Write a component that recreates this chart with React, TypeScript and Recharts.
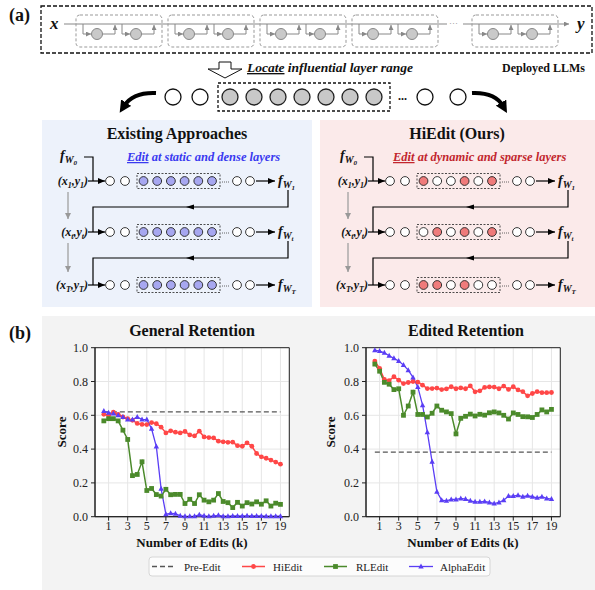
import React from "react";
import {
  LineChart,
  Line,
  XAxis,
  YAxis,
  CartesianGrid,
  ReferenceLine,
  ReferenceArea,
} from "recharts";

// number of edits (k)
const edits = [
  0.5, 1, 1.5, 2, 2.5, 3, 3.5, 4, 4.5, 5, 5.5, 6, 6.5, 7, 7.5, 8, 8.5, 9, 9.5, 10,
  10.5, 11, 11.5, 12, 12.5, 13, 13.5, 14, 14.5, 15, 15.5, 16, 16.5, 17, 17.5, 18, 18.5, 19,
];

// General Retention
const hiGeneral = [
  0.606, 0.6, 0.618, 0.606, 0.59, 0.58, 0.57, 0.552, 0.546, 0.545, 0.557, 0.55, 0.53, 0.496,
  0.508, 0.5, 0.496, 0.504, 0.484, 0.478, 0.506, 0.472, 0.468, 0.466, 0.447, 0.443, 0.44,
  0.441, 0.42, 0.417, 0.437, 0.417, 0.374, 0.354, 0.346, 0.335, 0.323, 0.311,
];
const rlGeneral = [
  0.567, 0.58, 0.58, 0.567, 0.512, 0.457, 0.243, 0.25, 0.325, 0.155, 0.167, 0.131, 0.122,
  0.162, 0.13, 0.132, 0.132, 0.078, 0.103, 0.078, 0.13, 0.098, 0.088, 0.098, 0.137, 0.09,
  0.083, 0.054, 0.085, 0.063, 0.083, 0.075, 0.088, 0.074, 0.094, 0.063, 0.08, 0.073,
];
const alphaGeneral = [
  0.625, 0.615, 0.61, 0.6, 0.59, 0.575, 0.575, 0.59, 0.575, 0.575, 0.52, 0.415, 0.165, 0.015,
  0.02, 0.018, 0.005, 0.002, 0.002, 0.002, 0.012, 0.005, 0.002, 0.005, 0.008, 0.003, 0.003,
  0.004, 0.004, 0.004, 0.005, 0.004, 0.004, 0.004, 0.003, 0.003, 0.003, 0.003,
];
const preGeneral = 0.62;

// Edited Retention
const hiEdited = [
  0.921, 0.878, 0.812, 0.805, 0.828, 0.808, 0.788, 0.794, 0.8, 0.796, 0.778, 0.758, 0.758,
  0.761, 0.752, 0.756, 0.769, 0.757, 0.762, 0.757, 0.774, 0.739, 0.745, 0.765, 0.768, 0.767,
  0.757, 0.773, 0.753, 0.769, 0.75, 0.74, 0.715, 0.729, 0.74, 0.734, 0.734, 0.735,
];
const rlEdited = [
  0.903, 0.861, 0.795, 0.784, 0.752, 0.757, 0.6, 0.655, 0.737, 0.605, 0.605, 0.59, 0.612,
  0.655, 0.63, 0.62, 0.61, 0.49, 0.582, 0.594, 0.607, 0.596, 0.606, 0.601, 0.615, 0.62,
  0.614, 0.6, 0.578, 0.614, 0.605, 0.592, 0.591, 0.587, 0.605, 0.632, 0.62, 0.635,
];
const alphaEdited = [
  0.985, 0.98, 0.97, 0.952, 0.937, 0.921, 0.897, 0.867, 0.824, 0.768, 0.66, 0.5, 0.325,
  0.147, 0.098, 0.094, 0.102, 0.102, 0.108, 0.104, 0.094, 0.088, 0.088, 0.09, 0.084, 0.078,
  0.084, 0.098, 0.122, 0.122, 0.127, 0.118, 0.124, 0.118, 0.112, 0.118, 0.108, 0.104,
];
const preEdited = 0.382;

const xTicks = [1, 3, 5, 7, 9, 11, 13, 15, 17, 19];
const yTicks = [0, 0.2, 0.4, 0.6, 0.8, 1.0];
const seriesNames = ["Pre-Edit", "HiEdit", "RLEdit", "AlphaEdit"];
const chartTitles = ["General Retention", "Edited Retention"];
const xLabel = "Number of Edits (k)";
const yLabel = "Score";

// which layers HiEdit touches in each row of the sketch
const hiEditPattern = [
  [1, 0, 0, 1, 0, 1],
  [0, 1, 0, 1, 0, 1],
  [1, 1, 0, 1, 0, 0],
];

const SERIF = "'Liberation Serif', 'Times New Roman', 'DejaVu Serif', serif";
const RED = "#ff4747";
const GREEN = "#4b8a2b";
const BLUE = "#5a3ef5";
const DASH = "#555";
const X_DOMAIN = [-0.425, 19.925];

const generalRows = edits.map((k, i) => ({
  k,
  hi: hiGeneral[i],
  rl: rlGeneral[i],
  alpha: alphaGeneral[i],
}));
const editedRows = edits.map((k, i) => ({
  k,
  hi: hiEdited[i],
  rl: rlEdited[i],
  alpha: alphaEdited[i],
}));

const circleDot = (color: string) => (p: any) =>
  <circle key={`c${p.index}`} cx={p.cx} cy={p.cy} r={2.4} fill={color} />;
const squareDot = (color: string) => (p: any) =>
  <rect key={`s${p.index}`} x={p.cx - 2.4} y={p.cy - 2.4} width={4.8} height={4.8} fill={color} />;
const triDot = (color: string) => (p: any) => (
  <polygon
    key={`t${p.index}`}
    points={`${p.cx},${p.cy - 3} ${p.cx - 2.7},${p.cy + 2} ${p.cx + 2.7},${p.cy + 2}`}
    fill={color}
  />
);

function RetentionChart({ data, pre, left }: { data: any[]; pre: number; left: number }) {
  const tick = { fill: "#222", fontSize: 12, fontFamily: SERIF };
  return (
    <div style={{ position: "absolute", left, top: 320 }}>
      <LineChart width={255} height={240} data={data} margin={{ top: 27.7, right: 5.7, left: 0, bottom: 13.3 }}>
        <CartesianGrid stroke="#e6e6e6" fill="#fff" />
        <XAxis
          dataKey="k"
          type="number"
          domain={X_DOMAIN}
          ticks={xTicks}
          interval={0}
          allowDataOverflow
          tick={tick}
          tickSize={4}
          tickMargin={1}
          axisLine={{ stroke: "#222" }}
          tickLine={{ stroke: "#222" }}
          height={30}
        />
        <YAxis
          type="number"
          domain={[0, 1]}
          ticks={yTicks}
          interval={0}
          tickFormatter={(v: number) => v.toFixed(1)}
          tick={tick}
          tickSize={4}
          tickMargin={3}
          axisLine={{ stroke: "#222" }}
          tickLine={{ stroke: "#222" }}
          width={55}
        />
        <ReferenceArea x1={X_DOMAIN[0]} x2={X_DOMAIN[1]} y1={0} y2={1} fill="none" stroke="#222" strokeWidth={1} />
        <ReferenceLine
          segment={[{ x: edits[0], y: pre }, { x: edits[edits.length - 1], y: pre }]}
          stroke={DASH}
          strokeWidth={1.4}
          strokeDasharray="5 3"
        />
        <Line type="linear" dataKey="hi" stroke={RED} strokeWidth={1.5} dot={circleDot(RED)} isAnimationActive={false} />
        <Line type="linear" dataKey="rl" stroke={GREEN} strokeWidth={1.5} dot={squareDot(GREEN)} isAnimationActive={false} />
        <Line type="linear" dataKey="alpha" stroke={BLUE} strokeWidth={1.3} dot={triDot(BLUE)} isAnimationActive={false} />
      </LineChart>
    </div>
  );
}

function FW({ x, y, sub }: { x: number; y: number; sub: string }) {
  return (
    <text x={x} y={y} fontFamily={SERIF} fontStyle="italic" fontWeight="bold" fontSize={14} fill="#111">
      f
      <tspan fontSize={10} dy={3}>W</tspan>
      <tspan fontSize={7} dy={2}>{sub}</tspan>
    </text>
  );
}

function XY({ x, y, sub }: { x: number; y: number; sub: string }) {
  return (
    <text x={x} y={y} textAnchor="end" fontFamily={SERIF} fontStyle="italic" fontWeight="bold" fontSize={12} fill="#111">
      (x<tspan fontSize={8} dy={3}>{sub}</tspan>
      <tspan dy={-3}>,y</tspan>
      <tspan fontSize={8} dy={3}>{sub}</tspan>
      <tspan dy={-3}>)</tspan>
    </text>
  );
}

function Panel({ dx, title, editX, editRest, editColor, fills }: any) {
  const rows = [181, 232, 285];
  const subs = ["1", "t", "T"];
  return (
    <g>
      <text x={177 + dx} y={139} textAnchor="middle" fontFamily={SERIF} fontWeight="bold" fontSize={16} fill="#111">
        {title}
      </text>
      <FW x={60 + dx} y={160} sub="0" />
      <text x={editX} y={161} fontFamily={SERIF} fontStyle="italic" fontWeight="bold" fontSize={12.5} fill={editColor}>
        <tspan textDecoration="underline" style={{ textDecoration: "underline" }}>Edit</tspan>
        {editRest}
      </text>
      <path d={`M${84 + dx},157 H${93 + dx} V${rows[0]}`} stroke="#000" strokeWidth={1.2} fill="none" />
      {rows.map((ry, r) => (
        <g key={r}>
          <XY x={88 + dx} y={ry + 4} sub={subs[r]} />
          <line x1={88 + dx} y1={ry} x2={105 + dx} y2={ry} stroke="#000" strokeWidth={1.2} markerEnd="url(#arrK)" />
          {[110, 125, 237, 250].map((cx) => (
            <circle key={cx} cx={cx + dx} cy={ry} r={4.4} fill="#fff" stroke="#222" strokeWidth={0.9} />
          ))}
          <rect x={137 + dx} y={ry - 7.5} width={83} height={15} fill="none" stroke="#222" strokeWidth={0.8} strokeDasharray="2 1.5" />
          {fills[r].map((f: string, i: number) => (
            <circle key={i} cx={143.5 + i * 13.7 + dx} cy={ry} r={4.4} fill={f} stroke="#222" strokeWidth={0.9} />
          ))}
          <line x1={222 + dx} y1={ry + 1} x2={230 + dx} y2={ry + 1} stroke="#555" strokeWidth={0.9} strokeDasharray="1 1" />
          <line x1={256 + dx} y1={ry} x2={275 + dx} y2={ry} stroke="#000" strokeWidth={1.2} markerEnd="url(#arrK)" />
          <FW x={278 + dx} y={ry + 4} sub={subs[r]} />
        </g>
      ))}
      {[0, 1].map((r) => {
        const top = rows[r] + 9;
        const mid = rows[r] + 26;
        return (
          <g key={r}>
            <path
              d={`M${288 + dx},${top} V${mid} H${93 + dx} V${rows[r + 1]}`}
              stroke="#000"
              strokeWidth={1.2}
              fill="none"
            />
            <polygon points={`${186 + dx},${mid} ${194 + dx},${mid - 2.5} ${194 + dx},${mid + 2.5}`} fill="#000" />
            <line
              x1={68 + dx}
              y1={rows[r] + 11}
              x2={68 + dx}
              y2={rows[r + 1] - 13}
              stroke="#999"
              strokeWidth={1.2}
              markerEnd="url(#arrG)"
            />
          </g>
        );
      })}
    </g>
  );
}

function Figure() {
  const blocks = [76, 168, 260, 352, 472];
  const grey = [230, 254, 278, 302, 326, 350, 374];
  const blueFills = hiEditPattern.map((row) => row.map(() => "#a7a7f0"));
  const redFills = hiEditPattern.map((row) => row.map((on) => (on ? "#ef7b7b" : "#fff")));
  const legendY = 566.5;
  const axisText = { fontFamily: SERIF, fontWeight: "bold" as const, fontSize: 13, fill: "#111" };
  return (
    <svg width={595} height={590} style={{ position: "absolute", left: 0, top: 0 }}>
      <defs>
        <marker id="arrK" markerUnits="userSpaceOnUse" markerWidth={7} markerHeight={6} refX={7} refY={3} orient="auto">
          <path d="M0,0 L7,3 L0,6 z" fill="#000" />
        </marker>
        <marker id="arrG" markerUnits="userSpaceOnUse" markerWidth={6} markerHeight={6} refX={6} refY={3} orient="auto">
          <path d="M0,0 L6,3 L0,6 z" fill="#999" />
        </marker>
        <marker id="arrS" markerUnits="userSpaceOnUse" markerWidth={5} markerHeight={5} refX={5} refY={2.5} orient="auto">
          <path d="M0,0 L5,2.5 L0,5 z" fill="#888" />
        </marker>
        <marker id="arrBig" markerUnits="userSpaceOnUse" markerWidth={12} markerHeight={12} refX={4} refY={6} orient="auto">
          <path d="M0,0 L12,6 L0,12 z" fill="#000" />
        </marker>
      </defs>

      {/* (a) deployed model strip */}
      <text x={9} y={21} fontFamily={SERIF} fontWeight="bold" fontSize={18} fill="#111">(a)</text>
      <rect x={41} y={6} width={551} height={47} fill="none" stroke="#111" strokeWidth={1.3} strokeDasharray="4 2" />
      <text x={50} y={29} fontFamily={SERIF} fontStyle="italic" fontWeight="bold" fontSize={17} fill="#111">x</text>
      <text x={577} y={29} fontFamily={SERIF} fontStyle="italic" fontWeight="bold" fontSize={17} fill="#111">y</text>
      <line x1={64} y1={24} x2={447} y2={24} stroke="#888" strokeWidth={1.2} />
      <text x={449} y={26} fontFamily={SERIF} fontSize={9} fill="#888">···</text>
      <line x1={463} y1={24} x2={569} y2={24} stroke="#888" strokeWidth={1.2} markerEnd="url(#arrS)" />
      {blocks.map((bx) => (
        <g key={bx}>
          <rect x={bx} y={15} width={86} height={32} rx={4} fill="none" stroke="#999" strokeWidth={1} strokeDasharray="3 2" />
          {[7, 46].map((u) => (
            <g key={u}>
              <path d={`M${bx + u},24 V34 H${bx + u + 8}`} stroke="#888" strokeWidth={1} fill="none" markerEnd="url(#arrS)" />
              <circle cx={bx + u + 14} cy={34} r={5.5} fill="#c9c9c9" stroke="#888" strokeWidth={1} />
              <path d={`M${bx + u + 19.5},34 H${bx + u + 32} V25`} stroke="#888" strokeWidth={1} fill="none" markerEnd="url(#arrS)" />
            </g>
          ))}
        </g>
      ))}
      <text x={585} y={72} textAnchor="end" fontFamily={SERIF} fontWeight="bold" fontSize={12} fill="#111">Deployed LLMs</text>

      {/* locate step */}
      <polygon points="219,62 231,62 231,69 242,69 225,78 208,69 219,69" fill="#fff" stroke="#111" strokeWidth={1} />
      <text x={247} y={72} fontFamily={SERIF} fontStyle="italic" fontWeight="bold" fontSize={13.5} fill="#111">
        <tspan textDecoration="underline" style={{ textDecoration: "underline" }}>Locate</tspan> influential layer range
      </text>
      {[173, 200, 425, 458].map((cx) => (
        <circle key={cx} cx={cx} cy={97} r={8} fill="#fff" stroke="#111" strokeWidth={1.3} />
      ))}
      <rect x={218} y={83} width={172} height={28} fill="none" stroke="#111" strokeWidth={1.3} strokeDasharray="3 2" />
      {grey.map((cx) => (
        <circle key={cx} cx={cx} cy={97} r={8} fill="#c8c8c8" stroke="#222" strokeWidth={1.3} />
      ))}
      <text x={398} y={100} fontFamily={SERIF} fontWeight="bold" fontSize={12} fill="#111">...</text>
      <path d="M156,93 Q133,92 124,106" stroke="#000" strokeWidth={4} fill="none" markerEnd="url(#arrBig)" />
      <path d="M472,93 Q495,92 503,106" stroke="#000" strokeWidth={4} fill="none" markerEnd="url(#arrBig)" />

      {/* two approaches */}
      <rect x={42} y={120} width={270} height={187} fill="#edf2fb" />
      <rect x={320} y={120} width={275} height={187} fill="#fbeaea" />
      <Panel dx={0} title="Existing Approaches" editX={127} editRest=" at static and dense layers" editColor="#3a3af0" fills={blueFills} />
      <Panel dx={280} title="HiEdit (Ours)" editX={393} editRest=" at dynamic and sparse layers" editColor="#c2262e" fills={redFills} />

      {/* (b) */}
      <rect x={42} y={316} width={553} height={274} fill="#f3f3f3" />
      <text x={9} y={339} fontFamily={SERIF} fontWeight="bold" fontSize={18} fill="#111">(b)</text>
      <text x={192} y={336} textAnchor="middle" fontFamily={SERIF} fontWeight="bold" fontSize={16} fill="#111">
        {chartTitles[0]}
      </text>
      <text x={466} y={336} textAnchor="middle" fontFamily={SERIF} fontWeight="bold" fontSize={16} fill="#111">
        {chartTitles[1]}
      </text>
      <text x={192} y={547} textAnchor="middle" {...axisText}>{xLabel}</text>
      <text x={463} y={547} textAnchor="middle" {...axisText}>{xLabel}</text>
      <text x={0} y={0} textAnchor="middle" transform="translate(66,432) rotate(-90)" {...axisText}>{yLabel}</text>
      <text x={0} y={0} textAnchor="middle" transform="translate(335,432) rotate(-90)" {...axisText}>{yLabel}</text>

      {/* legend */}
      <rect x={149} y={557} width={341} height={19} rx={3} fill="#fcfcfc" stroke="#d6d6d6" strokeWidth={1} />
      <line x1={152} y1={legendY} x2={176} y2={legendY} stroke={DASH} strokeWidth={1.4} strokeDasharray="5 3" />
      <line x1={242} y1={legendY} x2={265} y2={legendY} stroke={RED} strokeWidth={1.5} />
      <circle cx={253.5} cy={legendY} r={2.4} fill={RED} />
      <line x1={324} y1={legendY} x2={347} y2={legendY} stroke={GREEN} strokeWidth={1.5} />
      <rect x={333.1} y={legendY - 2.4} width={4.8} height={4.8} fill={GREEN} />
      <line x1={409} y1={legendY} x2={433} y2={legendY} stroke={BLUE} strokeWidth={1.3} />
      <polygon points={`421,${legendY - 3} 418.3,${legendY + 2} 423.7,${legendY + 2}`} fill={BLUE} />
      {[184, 273, 356, 440].map((tx, i) => (
        <text key={tx} x={tx} y={570.5} fontFamily={SERIF} fontSize={11} fill="#222">
          {seriesNames[i]}
        </text>
      ))}
    </svg>
  );
}

export default function App() {
  return (
    <div style={{ position: "absolute", left: 0, top: 0, width: 595, height: 590, background: "#fff", overflow: "hidden" }}>
      <Figure />
      <RetentionChart data={generalRows} pre={preGeneral} left={40} />
      <RetentionChart data={editedRows} pre={preEdited} left={310.7} />
    </div>
  );
}
